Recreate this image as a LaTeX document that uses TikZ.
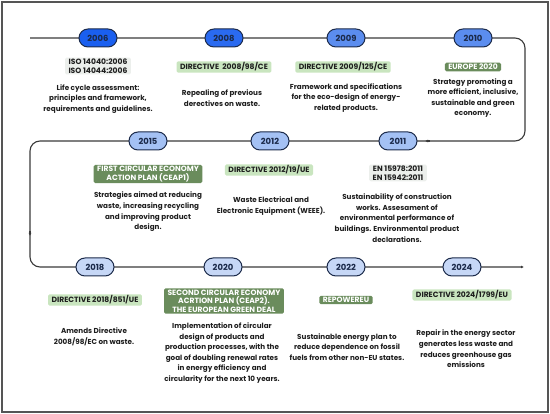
\documentclass[tikz,border=0pt]{standalone}
\usepackage{fontspec}
\setmainfont{Poppins}
\usetikzlibrary{arrows.meta,shapes.misc}
\tikzset{
  yearpill/.style={rounded rectangle,draw=colorN,line width=1pt,minimum width=38pt,minimum height=18pt,inner sep=0pt,font=\fontsize{8.4}{9}\selectfont\bfseries,text=colorN},
  tagbox/.style={rounded corners=1.5pt,inner xsep=3.5pt,inner ysep=1.4pt,align=center,font=\fontsize{7.6}{8.4}\selectfont\bfseries},
  tagpale/.style={tagbox,fill=colorG1,text=colorT},
  tagdark/.style={tagbox,fill=colorG2,text=white},
  taggray/.style={tagbox,fill=colorG0,text=colorT},
  desc/.style={align=center,inner sep=0pt,font=\fontsize{7.2}{10.6}\selectfont\bfseries,text=colorT},
  tline/.style={draw=colorL,line width=1.1pt},
  tick/.style={tline,-{Latex[length=3pt,width=3pt]}}
}
\begin{document}
\begin{tikzpicture}[x=1pt,y=-1pt]
\definecolor{colorN}{HTML}{1B2A4A}
\definecolor{colorT}{HTML}{1E1E1E}
\definecolor{colorL}{HTML}{3A3A3A}
\definecolor{colorF}{HTML}{555555}
\definecolor{colorB0}{HTML}{1A5FEF}
\definecolor{colorB1}{HTML}{2A6AF0}
\definecolor{colorB2}{HTML}{5B8DEF}
\definecolor{colorB3}{HTML}{A4C1F4}
\definecolor{colorB4}{HTML}{C6D7F6}
\definecolor{colorG0}{HTML}{ECEFEC}
\definecolor{colorG1}{HTML}{C9E5BF}
\definecolor{colorG2}{HTML}{6A8C5C}
\useasboundingbox (0,0) rectangle (550,414);
\draw[colorF,line width=1.2pt] (2,2) rectangle (548,412);
\coordinate[] (S1) at (30,38);
\coordinate[] (R1) at (525,38);
\coordinate[] (R2) at (525,141);
\coordinate[] (L2) at (30,141);
\coordinate[] (L3) at (30,267);
\coordinate[] (E3) at (524,267);
\coordinate[] (K1) at (430,141);
\coordinate[] (K2) at (425,141);
\coordinate[] (K3) at (30,231);
\coordinate[] (K4) at (30,236);
\draw[tline,rounded corners=10pt,-{Latex[length=3pt,width=3pt]}] (S1)--(R1)--(R2)--(L2)--(L3)--(E3);
\draw[tick] (K1)--(K2);
\draw[tick] (K3)--(K4);
\node[yearpill,fill=colorB0] (y2006) at (98,38) {2006};
\node[yearpill,fill=colorB1] (y2008) at (224,38) {2008};
\node[yearpill,fill=colorB2] (y2009) at (346,38) {2009};
\node[yearpill,fill=colorB2] (y2010) at (473,38) {2010};
\node[yearpill,fill=colorB3] (y2015) at (148,141) {2015};
\node[yearpill,fill=colorB3] (y2012) at (270,141) {2012};
\node[yearpill,fill=colorB3] (y2011) at (398,141) {2011};
\node[yearpill,fill=colorB4] (y2018) at (95,267) {2018};
\node[yearpill,fill=colorB4] (y2020) at (223,267) {2020};
\node[yearpill,fill=colorB4] (y2022) at (346,267) {2022};
\node[yearpill,fill=colorB4] (y2024) at (462,267) {2024};
\node[taggray] (t2006) at (98,66) {ISO 14040:2006\\ISO 14044:2006};
\node[tagpale] (t2008) at (224,67) {DIRECTIVE\ \ 2008/98/CE};
\node[tagpale] (t2009) at (343,67) {DIRECTIVE 2009/125/CE};
\node[tagdark] (t2010) at (473,67) {EUROPE 2020};
\node[tagdark] (t2015) at (148,174) {FIRST CIRCULAR ECONOMY\\ACTION PLAN (CEAP1)};
\node[tagpale] (t2012) at (269,170) {DIRECTIVE 2012/19/UE};
\node[taggray] (t2011) at (398,173) {EN 15978:2011\\EN 15942:2011};
\node[tagpale] (t2018) at (95,300) {DIRECTIVE 2018/851/UE};
\node[tagdark] (t2020) at (224,301) {SECOND CIRCULAR ECONOMY\\ACRTION PLAN (CEAP2).\\THE EUROPEAN GREEN DEAL};
\node[tagdark] (t2022) at (346,300) {REPOWEREU};
\node[tagpale] (t2024) at (462,295) {DIRECTIVE 2024/1799/EU};
\node[desc] (d2006) at (98,99) {Life cycle assessment:\\principles and framework,\\requirements and guidelines.};
\node[desc] (d2008) at (222,98) {Repealing of previous\\derectives on waste.};
\node[desc] (d2009) at (346,98) {Framework and specifications\\for the eco-design of energy-\\related products.};
\node[desc] (d2010) at (473,98) {Strategy promoting a\\more efficient, inclusive,\\sustainable and green\\economy.};
\node[desc] (d2015) at (148,212) {Strategies aimed at reducing\\waste, increasing recycling\\and improving product\\design.};
\node[desc] (d2012) at (271,206) {Waste Electrical and\\Electronic Equipment (WEEE).};
\node[desc] (d2011) at (397,218) {Sustainability of construction\\works. Assesament of\\environmental performance of\\buildings. Environmental product\\declarations.};
\node[desc] (d2018) at (94,337) {Amends Directive\\2008/98/EC on waste.};
\node[desc] (d2020) at (222,353) {Implementation of circular\\design of products and\\production processes, with the\\goal of doubling renewal rates\\in energy efficiency and\\circularity for the next 10 years.};
\node[desc] (d2022) at (347,347) {Sustainable energy plan to\\reduce dependence on fossil\\fuels from other non-EU states.};
\node[desc] (d2024) at (466,349) {Repair in the energy sector\\generates less waste and\\reduces greenhouse gas\\emissions};
\end{tikzpicture}
\end{document}
